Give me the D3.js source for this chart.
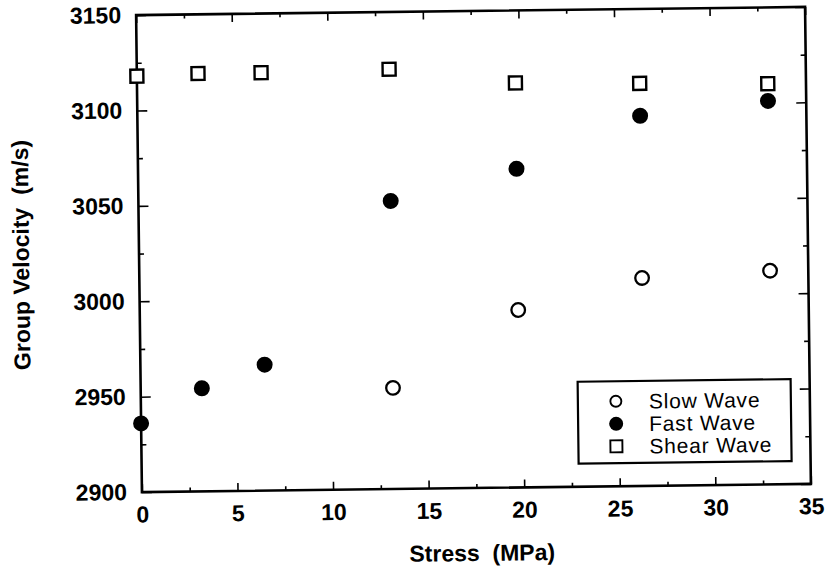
<!DOCTYPE html>
<html>
<head>
<meta charset="utf-8">
<script src="https://cdn.jsdelivr.net/npm/d3@7"></script>
<style>
  body { margin: 0; background: #fff; }
  svg { display: block; font-family: "Liberation Sans", Arial, sans-serif; }
</style>
</head>
<body>
<svg id="chart" width="826" height="566"></svg>
<script>
// données
const stress = [0, 3.2, 6.5, 13.2, 19.8, 26.3, 33.0];
const shearWave = [3118, 3119, 3119, 3120, 3112, 3111, 3110];
const fastWave = [2936, 2954, 2966, 3051, 3067, 3094, 3101];
const slowStress = [13.2, 19.8, 26.3, 33.0];
const slowWave = [2953, 2993, 3009, 3012];

const xTicks = [0, 5, 10, 15, 20, 25, 30, 35];
const yTicks = [2900, 2950, 3000, 3050, 3100, 3150];
const legendLabels = ["Slow Wave", "Fast Wave", "Shear Wave"];

// Dimensions
const margin = {top: 11, right: 18, bottom: 78, left: 139};
const width = 826 - margin.left - margin.right;
const height = 566 - margin.top - margin.bottom;

// la figure scannée est légèrement tournée
const page = d3.select("#chart").append("g")
  .attr("transform", `rotate(-0.7, ${margin.left + width / 2}, ${margin.top + height / 2})`);

const graph = page.append("g")
  .attr("transform", `translate(${margin.left}, ${margin.top})`);

const x = d3.scaleLinear().domain([0, 35]).range([0, width]);
const y = d3.scaleLinear().domain([2900, 3150]).range([height, 0]);

const xMinor = d3.range(2.5, 35, 5);
const yMinor = d3.range(2925, 3150, 50);

// axes : graduations vers l'intérieur sur les 4 côtés
const styleAxis = g => {
  g.select(".domain").remove();
  g.selectAll("line").attr("stroke", "#000").attr("stroke-width", 1.6);
  g.selectAll("text").attr("fill", "#000")
    .style("font-size", "23px").style("font-weight", "bold");
};

graph.append("g").attr("transform", `translate(0, ${height})`)
  .call(d3.axisBottom(x).tickValues(xTicks).tickFormat(d3.format("d"))
    .tickSizeInner(-8).tickSizeOuter(0).tickPadding(14))
  .call(styleAxis);
graph.append("g").attr("transform", `translate(0, ${height})`)
  .call(d3.axisBottom(x).tickValues(xMinor).tickFormat("").tickSizeInner(-4).tickSizeOuter(0))
  .call(styleAxis);
graph.append("g")
  .call(d3.axisTop(x).tickValues(xTicks).tickFormat("").tickSizeInner(-8).tickSizeOuter(0))
  .call(styleAxis);
graph.append("g")
  .call(d3.axisTop(x).tickValues(xMinor).tickFormat("").tickSizeInner(-4).tickSizeOuter(0))
  .call(styleAxis);

graph.append("g")
  .call(d3.axisLeft(y).tickValues(yTicks).tickFormat(d3.format("d"))
    .tickSizeInner(-10).tickSizeOuter(0).tickPadding(15))
  .call(styleAxis);
graph.append("g")
  .call(d3.axisLeft(y).tickValues(yMinor).tickFormat("").tickSizeInner(-5).tickSizeOuter(0))
  .call(styleAxis);
graph.append("g").attr("transform", `translate(${width}, 0)`)
  .call(d3.axisRight(y).tickValues(yTicks).tickFormat("").tickSizeInner(-10).tickSizeOuter(0))
  .call(styleAxis);
graph.append("g").attr("transform", `translate(${width}, 0)`)
  .call(d3.axisRight(y).tickValues(yMinor).tickFormat("").tickSizeInner(-5).tickSizeOuter(0))
  .call(styleAxis);

// cadre
graph.append("rect")
  .attr("width", width).attr("height", height)
  .attr("fill", "none").attr("stroke", "#000").attr("stroke-width", 2.6);

// titres des axes
page.append("text")
  .attr("x", margin.left + width / 2 + 5).attr("y", 561)
  .attr("text-anchor", "middle")
  .style("font-size", "23px").style("font-weight", "bold")
  .attr("xml:space", "preserve")
  .text("Stress  (MPa)");

page.append("text")
  .attr("transform", `translate(29, ${margin.top + height / 2}) rotate(-90)`)
  .attr("text-anchor", "middle")
  .style("font-size", "23px").style("font-weight", "bold")
  .attr("xml:space", "preserve")
  .text("Group Velocity  (m/s)");

// points
const shearData = stress.map((s, i) => ({s: s, v: shearWave[i]}));
const fastData = stress.map((s, i) => ({s: s, v: fastWave[i]}));
const slowData = slowStress.map((s, i) => ({s: s, v: slowWave[i]}));

graph.selectAll("rect.shear").data(shearData).enter()
  .append("rect").attr("class", "shear")
  .attr("x", d => x(d.s) - 6.5).attr("y", d => y(d.v) - 6.5)
  .attr("width", 13).attr("height", 13)
  .attr("fill", "#fff").attr("stroke", "#000").attr("stroke-width", 2.4);

graph.selectAll("circle.fast").data(fastData).enter()
  .append("circle").attr("class", "fast")
  .attr("cx", d => x(d.s)).attr("cy", d => y(d.v)).attr("r", 8)
  .attr("fill", "#000");

graph.selectAll("circle.slow").data(slowData).enter()
  .append("circle").attr("class", "slow")
  .attr("cx", d => x(d.s)).attr("cy", d => y(d.v)).attr("r", 6.8)
  .attr("fill", "#fff").attr("stroke", "#000").attr("stroke-width", 2.3);

// légende
const legend = page.append("g");
legend.append("rect")
  .attr("x", 576).attr("y", 383).attr("width", 213).attr("height", 82)
  .attr("fill", "#fff").attr("stroke", "#000").attr("stroke-width", 2.2);

const rows = legend.selectAll("g.row").data(legendLabels).enter()
  .append("g").attr("class", "row")
  .attr("transform", (d, i) => `translate(614, ${403 + i * 22.5})`);

rows.append("text")
  .attr("x", 33).attr("y", 0).attr("dy", "0.36em")
  .style("font-size", "21px").style("letter-spacing", "0.8px")
  .text(d => d);

rows.filter((d, i) => i === 0).append("circle")
  .attr("r", 5.5).attr("fill", "#fff").attr("stroke", "#000").attr("stroke-width", 1.9);
rows.filter((d, i) => i === 1).append("circle")
  .attr("r", 7).attr("fill", "#000");
rows.filter((d, i) => i === 2).append("rect")
  .attr("x", -6).attr("y", -6).attr("width", 12).attr("height", 12)
  .attr("fill", "#fff").attr("stroke", "#000").attr("stroke-width", 1.9);
</script>
</body>
</html>
